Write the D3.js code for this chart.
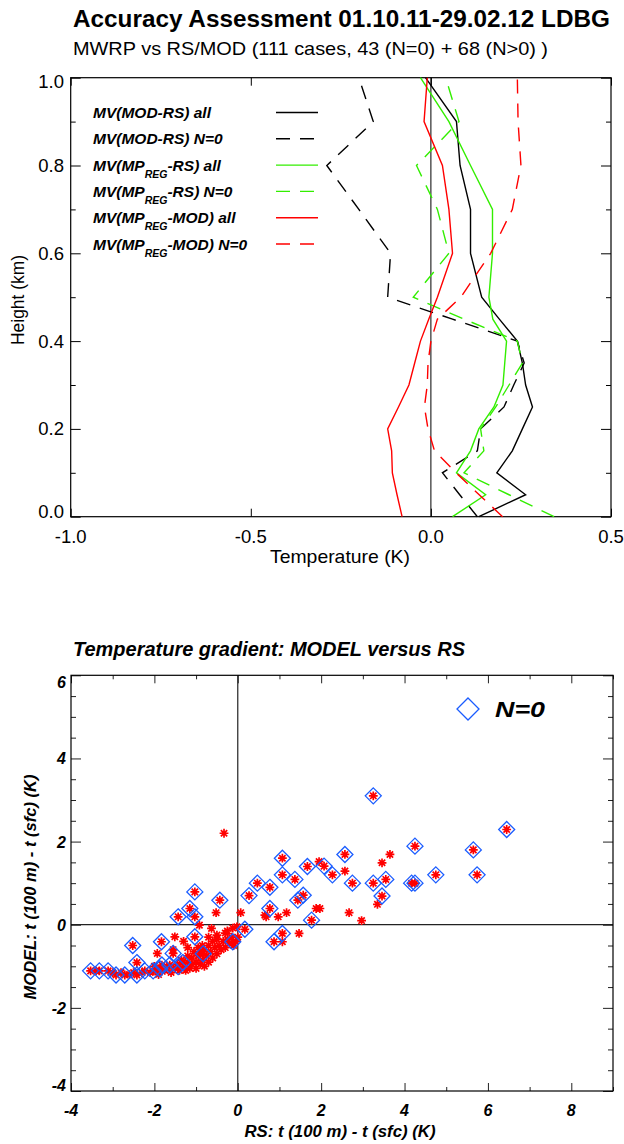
<!DOCTYPE html>
<html>
<head>
<meta charset="utf-8">
<script src="https://cdn.jsdelivr.net/npm/d3@7"></script>
<style>
  body { margin: 0; background: #fff; }
  svg { display: block; }
  text { font-family: "Liberation Sans", Arial, sans-serif; fill: #000; }
</style>
</head>
<body>
<div id="chart"></div>
<script>
const W = 624, H = 1144;

// ---------- data: profile chart ----------
const heights = [0, 0.05, 0.1, 0.15, 0.2, 0.25, 0.3, 0.35, 0.4, 0.45, 0.5, 0.6, 0.7, 0.8, 0.9, 1.0];
const modRsAll   = [0.133, 0.263, 0.183, 0.226, 0.254, 0.282, 0.263, 0.254, 0.240, 0.190, 0.141, 0.110, 0.110, 0.081, 0.071, -0.015];
const modRsN0    = [0.129, 0.080, 0.032, 0.129, 0.138, 0.203, 0.230, 0.259, 0.240, 0.060, -0.120, -0.112, -0.200, -0.289, -0.160, -0.200];
const mpRsAll    = [0.060, 0.152, 0.071, 0.110, 0.133, 0.175, 0.200, 0.205, 0.210, 0.172, 0.161, 0.171, 0.171, 0.110, 0.050, -0.029];
const mpRsN0     = [0.342, 0.217, 0.092, 0.147, 0.138, 0.180, 0.217, 0.254, 0.240, 0.092, -0.049, 0.050, 0.018, -0.040, 0.078, 0.041];
const mpModAll   = [-0.080, -0.094, -0.107, -0.109, -0.120, -0.090, -0.061, -0.045, -0.029, -0.006, 0.018, 0.060, 0.050, 0.032, -0.019, -0.010];
const mpModN0    = [0.199, 0.134, 0.070, 0.010, -0.008, -0.018, -0.010, -0.008, 0.000, 0.018, 0.083, 0.166, 0.226, 0.250, 0.242, 0.240];

const profileSeries = [
  {label: ["MV(MOD-RS) all"], values: modRsAll, color: "#000000", dash: null},
  {label: ["MV(MOD-RS) N=0"], values: modRsN0, color: "#000000", dash: "14,10"},
  {label: ["MV(MP", "REG", "-RS) all"], values: mpRsAll, color: "#33ee00", dash: null},
  {label: ["MV(MP", "REG", "-RS) N=0"], values: mpRsN0, color: "#33ee00", dash: "14,10"},
  {label: ["MV(MP", "REG", "-MOD) all"], values: mpModAll, color: "#ff0000", dash: null},
  {label: ["MV(MP", "REG", "-MOD) N=0"], values: mpModN0, color: "#ff0000", dash: "14,10"}
];

const topXTicks = [-1.0, -0.5, 0.0, 0.5];
const topYTicks = [0.0, 0.2, 0.4, 0.6, 0.8, 1.0];
const topYMinor = [0.1, 0.3, 0.5, 0.7, 0.9];

// ---------- data: scatter (RS gradient, MODEL gradient) ----------
// N=0 cases (diamonds, also drawn as red asterisks)
const n0Points = [
  [3.25, 3.10], [6.45, 2.29], [4.25, 1.89], [5.65, 1.80], [2.57, 1.69], [1.07, 1.60],
  [1.67, 1.40], [2.07, 1.41], [2.27, 1.20], [1.07, 1.20], [1.37, 1.09], [0.47, 1.00],
  [0.77, 0.90], [0.27, 0.70], [2.75, 1.00], [3.25, 1.00], [3.55, 1.09], [3.46, 0.69],
  [4.17, 1.00], [4.25, 1.00], [4.75, 1.20], [5.74, 1.20], [1.44, 0.59], [1.57, 0.71],
  [0.77, 0.39], [1.77, 0.11], [0.17, -0.11], [1.07, -0.21], [0.87, -0.41], [-0.12, -0.41],
  [-1.03, 0.79], [-0.43, 0.59], [-1.15, 0.39], [-1.03, 0.19], [-1.43, 0.19], [-1.03, -0.29],
  [-1.83, -0.41], [-2.52, -0.50], [-1.55, -0.69], [-0.83, -0.70], [-1.32, -0.91],
  [-3.53, -1.11], [-3.32, -1.11], [-3.11, -1.11], [-2.92, -1.21], [-2.71, -1.21],
  [-2.42, -0.91], [-2.42, -1.21], [-2.23, -1.11], [-2.03, -1.11], [-1.87, -1.06],
  [-1.82, -0.97], [-1.63, -0.97], [-1.43, -1.01]
];
// remaining cases (red asterisks only)
const otherPoints = [
  [1.95, 1.52], [3.65, 1.69], [3.46, 1.49], [2.57, 1.29], [3.35, 0.49], [2.67, 0.29],
  [2.97, 0.10], [1.17, 0.29], [0.97, 0.19], [0.65, 0.23], [0.68, 0.19], [1.88, 0.39],
  [1.97, 0.39], [0.07, 0.29], [1.47, -0.21], [1.07, -0.41], [-0.12, -0.08], [-0.33, 2.20],
  [-0.52, 0.29], [-0.92, -0.01], [-0.63, -0.09], [-1.51, -0.29], [-1.93, -0.69],
  [-3.40, -1.11], [-3.00, -1.15], [-2.80, -1.15], [-2.60, -1.20], [-2.50, -1.15], [-2.30, -1.15],
  [-2.10, -1.15], [-1.95, -1.10], [-1.90, -1.20], [-1.75, -1.10], [-1.70, -1.00], [-1.60, -1.15],
  [-1.50, -1.05], [-1.45, -0.95], [-1.40, -1.10], [-1.35, -0.85], [-1.30, -1.00], [-1.25, -1.10],
  [-1.20, -0.90], [-1.20, -0.75], [-1.15, -1.05], [-1.10, -0.95], [-1.10, -0.80], [-1.05, -0.65],
  [-1.00, -1.05], [-1.00, -0.90], [-0.95, -0.75], [-0.95, -0.55], [-0.90, -0.95], [-0.90, -0.65],
  [-0.85, -0.85], [-0.85, -0.50], [-0.80, -0.60], [-0.80, -1.00], [-0.75, -0.75], [-0.70, -0.90],
  [-0.70, -0.50], [-0.65, -0.65], [-0.60, -0.40], [-0.60, -0.80], [-0.55, -0.55], [-0.50, -0.70],
  [-0.50, -0.35], [-0.45, -0.50], [-0.40, -0.60], [-0.35, -0.40], [-0.30, -0.55], [-0.25, -0.35],
  [-0.20, -0.45], [-0.15, -0.30], [-0.10, -0.50], [-0.05, -0.40], [0.00, -0.30], [-0.30, -0.20],
  [-0.50, -0.25], [-0.70, -0.30], [-1.30, -0.40], [-1.55, -0.60], [-1.20, -0.55], [-2.00, -1.00],
  [-0.25, -0.15], [-0.02, -0.05]
];

const scXTicks = [-4, -2, 0, 2, 4, 6, 8];
const scXMinor = [-3, -1, 1, 3, 5, 7, 9];
const scYTicks = [-4, -2, 0, 2, 4, 6];
const scYMinor = [-3.5, -3, -2.5, -1.5, -1, -0.5, 0.5, 1, 1.5, 2.5, 3, 3.5, 4.5, 5, 5.5];

const svg = d3.select("#chart").append("svg")
  .attr("width", W).attr("height", H);

// text helper: fixed width, like the stretched IDL fonts
function fit(sel, len) {
  return sel.attr("textLength", len).attr("lengthAdjust", "spacingAndGlyphs");
}

// ---------- titles ----------
svg.append("text")
  .attr("x", 73).attr("y", 27)
  .style("font-size", "23px").style("font-weight", "bold")
  .call(fit, 537)
  .text("Accuracy Assessment 01.10.11-29.02.12 LDBG");
svg.append("text")
  .attr("x", 73).attr("y", 55)
  .style("font-size", "19px")
  .call(fit, 475)
  .text("MWRP vs RS/MOD (111 cases, 43 (N=0) + 68 (N>0) )");

// ---------- profile chart ----------
const x1 = d3.scaleLinear().domain([-1, 0.5]).range([70.7, 611]);
const y1 = d3.scaleLinear().domain([0, 1]).range([516.7, 77.7]);

const g1 = svg.append("g");

// zero line
g1.append("line")
  .attr("x1", x1(0)).attr("x2", x1(0))
  .attr("y1", y1(0)).attr("y2", y1(1))
  .attr("stroke", "#000").attr("stroke-width", 1);

// ticks (inward, all sides)
function ticks(g, axis) { g.call(axis).call(a => a.select(".domain").remove()).selectAll("text").remove(); }
g1.append("g").attr("transform", `translate(0,${y1(0)})`)
  .call(ticks, d3.axisBottom(x1).tickValues(topXTicks).tickSize(-8));
g1.append("g").attr("transform", `translate(0,${y1(1)})`)
  .call(ticks, d3.axisTop(x1).tickValues(topXTicks).tickSize(-8));
g1.append("g").attr("transform", `translate(${x1(-1)},0)`)
  .call(ticks, d3.axisLeft(y1).tickValues(topYTicks).tickSize(-10));
g1.append("g").attr("transform", `translate(${x1(-1)},0)`)
  .call(ticks, d3.axisLeft(y1).tickValues(topYMinor).tickSize(-5));
g1.append("g").attr("transform", `translate(${x1(0.5)},0)`)
  .call(ticks, d3.axisRight(y1).tickValues(topYTicks).tickSize(-10));
g1.append("g").attr("transform", `translate(${x1(0.5)},0)`)
  .call(ticks, d3.axisRight(y1).tickValues(topYMinor).tickSize(-5));
g1.selectAll(".tick line").attr("stroke", "#000");

g1.append("rect")
  .attr("x", x1(-1)).attr("y", y1(1))
  .attr("width", x1(0.5) - x1(-1)).attr("height", y1(0) - y1(1))
  .attr("fill", "none").attr("stroke", "#000").attr("stroke-width", 1.2);

// tick labels
g1.selectAll(".xl").data(topXTicks).enter().append("text")
  .attr("x", d => x1(d)).attr("y", 543)
  .attr("text-anchor", "middle").style("font-size", "18.5px")
  .text(d => d3.format(".1f")(d).replace("−", "-"));
g1.selectAll(".yl").data(topYTicks).enter().append("text")
  .attr("x", 64)
  .attr("y", d => y1(d) + 6.5 + (d === 0 ? -5 : 0) + (d === 1 ? 4 : 0))
  .attr("text-anchor", "end").style("font-size", "18.5px")
  .text(d => d3.format(".1f")(d));

svg.append("text")
  .attr("x", 340).attr("y", 563)
  .attr("text-anchor", "middle").style("font-size", "18.5px")
  .call(fit, 140)
  .text("Temperature (K)");
svg.append("text")
  .attr("transform", "translate(24,300) rotate(-90)")
  .attr("text-anchor", "middle").style("font-size", "18.5px")
  .call(fit, 90)
  .text("Height (km)");

// profile lines
const line1 = d3.line()
  .x(d => x1(d[0]))
  .y(d => y1(d[1]));

g1.selectAll(".prof").data(profileSeries).enter().append("path")
  .attr("d", s => line1(s.values.map((v, i) => [v, heights[i]])))
  .attr("fill", "none")
  .attr("stroke", s => s.color)
  .attr("stroke-width", 1.4)
  .attr("stroke-dasharray", s => s.dash);

// legend
const leg = g1.append("g");
profileSeries.forEach((s, i) => {
  const yy = 112.5 + i * 26.3;
  leg.append("line")
    .attr("x1", 276).attr("x2", 318).attr("y1", yy).attr("y2", yy)
    .attr("stroke", s.color).attr("stroke-width", 1.4)
    .attr("stroke-dasharray", s.dash);
  const t = leg.append("text")
    .attr("x", 93).attr("y", yy + 5.5)
    .style("font-size", "15.5px").style("font-weight", "bold").style("font-style", "italic");
  if (s.label.length === 1) {
    t.text(s.label[0]);
  } else {
    t.append("tspan").text(s.label[0]);
    t.append("tspan").attr("dy", 7).style("font-size", "10.5px").text(s.label[1]);
    t.append("tspan").attr("dy", -7).text(s.label[2]);
  }
});

// ---------- scatter chart ----------
const x2 = d3.scaleLinear().domain([-4, 9]).range([71, 613]);
const y2 = d3.scaleLinear().domain([-4, 6]).range([1091, 675.3]);
const g2 = svg.append("g");
const biStyle = t => t.style("font-weight", "bold").style("font-style", "italic");

svg.append("text")
  .attr("x", 73).attr("y", 656)
  .style("font-size", "19.5px")
  .call(biStyle)
  .call(fit, 392)
  .text("Temperature gradient: MODEL versus RS");

g2.append("line")
  .attr("x1", x2(0)).attr("x2", x2(0)).attr("y1", y2(-4)).attr("y2", y2(6))
  .attr("stroke", "#222").attr("stroke-width", 1.2);
g2.append("line")
  .attr("x1", x2(-4)).attr("x2", x2(9)).attr("y1", y2(0)).attr("y2", y2(0))
  .attr("stroke", "#222").attr("stroke-width", 1.2);

g2.append("g").attr("transform", `translate(0,${y2(-4)})`)
  .call(ticks, d3.axisBottom(x2).tickValues(scXTicks).tickSize(-8));
g2.append("g").attr("transform", `translate(0,${y2(-4)})`)
  .call(ticks, d3.axisBottom(x2).tickValues(scXMinor).tickSize(-4));
g2.append("g").attr("transform", `translate(0,${y2(6)})`)
  .call(ticks, d3.axisTop(x2).tickValues(scXTicks).tickSize(-8));
g2.append("g").attr("transform", `translate(0,${y2(6)})`)
  .call(ticks, d3.axisTop(x2).tickValues(scXMinor).tickSize(-4));
g2.append("g").attr("transform", `translate(${x2(-4)},0)`)
  .call(ticks, d3.axisLeft(y2).tickValues(scYTicks).tickSize(-10));
g2.append("g").attr("transform", `translate(${x2(-4)},0)`)
  .call(ticks, d3.axisLeft(y2).tickValues(scYMinor).tickSize(-5));
g2.append("g").attr("transform", `translate(${x2(9)},0)`)
  .call(ticks, d3.axisRight(y2).tickValues(scYTicks).tickSize(-10));
g2.append("g").attr("transform", `translate(${x2(9)},0)`)
  .call(ticks, d3.axisRight(y2).tickValues(scYMinor).tickSize(-5));
g2.selectAll(".tick line").attr("stroke", "#222");

g2.append("rect")
  .attr("x", x2(-4)).attr("y", y2(6))
  .attr("width", x2(9) - x2(-4)).attr("height", y2(-4) - y2(6))
  .attr("fill", "none").attr("stroke", "#000").attr("stroke-width", 1.2);

g2.selectAll(".sxl").data(scXTicks).enter().append("text")
  .attr("x", d => x2(d)).attr("y", 1116)
  .attr("text-anchor", "middle").style("font-size", "16px")
  .call(biStyle)
  .text(d => String(d));
g2.selectAll(".syl").data(scYTicks).enter().append("text")
  .attr("x", 66)
  .attr("y", d => y2(d) + 6 + (d === 6 ? 6.5 : 0) + (d === -4 ? -6 : 0))
  .attr("text-anchor", "end").style("font-size", "16px")
  .call(biStyle)
  .text(d => String(d));

svg.append("text")
  .attr("x", 340).attr("y", 1137)
  .attr("text-anchor", "middle").style("font-size", "16px")
  .call(biStyle)
  .call(fit, 191)
  .text("RS: t (100 m) - t (sfc)   (K)");
svg.append("text")
  .attr("transform", "translate(36,887) rotate(-90)")
  .attr("text-anchor", "middle").style("font-size", "16px")
  .call(biStyle)
  .call(fit, 225)
  .text("MODEL: t (100 m) - t (sfc)   (K)");

// markers
const diamond = r => `M0,${-r}L${r},0L0,${r}L${-r},0Z`;
const asterisk = r => {
  const d = r * 0.72;
  return `M${-r},0L${r},0M0,${-r}L0,${r}M${-d},${-d}L${d},${d}M${-d},${d}L${d},${-d}`;
};

g2.selectAll(".ast").data(n0Points.concat(otherPoints)).enter().append("path")
  .attr("transform", d => `translate(${x2(d[0])},${y2(d[1])})`)
  .attr("d", asterisk(4.4))
  .attr("fill", "none").attr("stroke", "#ff0000").attr("stroke-width", 1.7);

g2.selectAll(".dia").data(n0Points).enter().append("path")
  .attr("transform", d => `translate(${x2(d[0])},${y2(d[1])})`)
  .attr("d", diamond(8))
  .attr("fill", "none").attr("stroke", "#1a5cff").attr("stroke-width", 1.3);

// legend
g2.append("path")
  .attr("transform", "translate(468,709)")
  .attr("d", diamond(11))
  .attr("fill", "none").attr("stroke", "#1a5cff").attr("stroke-width", 1.3);
g2.append("text")
  .attr("x", 495).attr("y", 717)
  .style("font-size", "22px")
  .call(biStyle)
  .call(fit, 50)
  .text("N=0");
</script>
</body>
</html>
